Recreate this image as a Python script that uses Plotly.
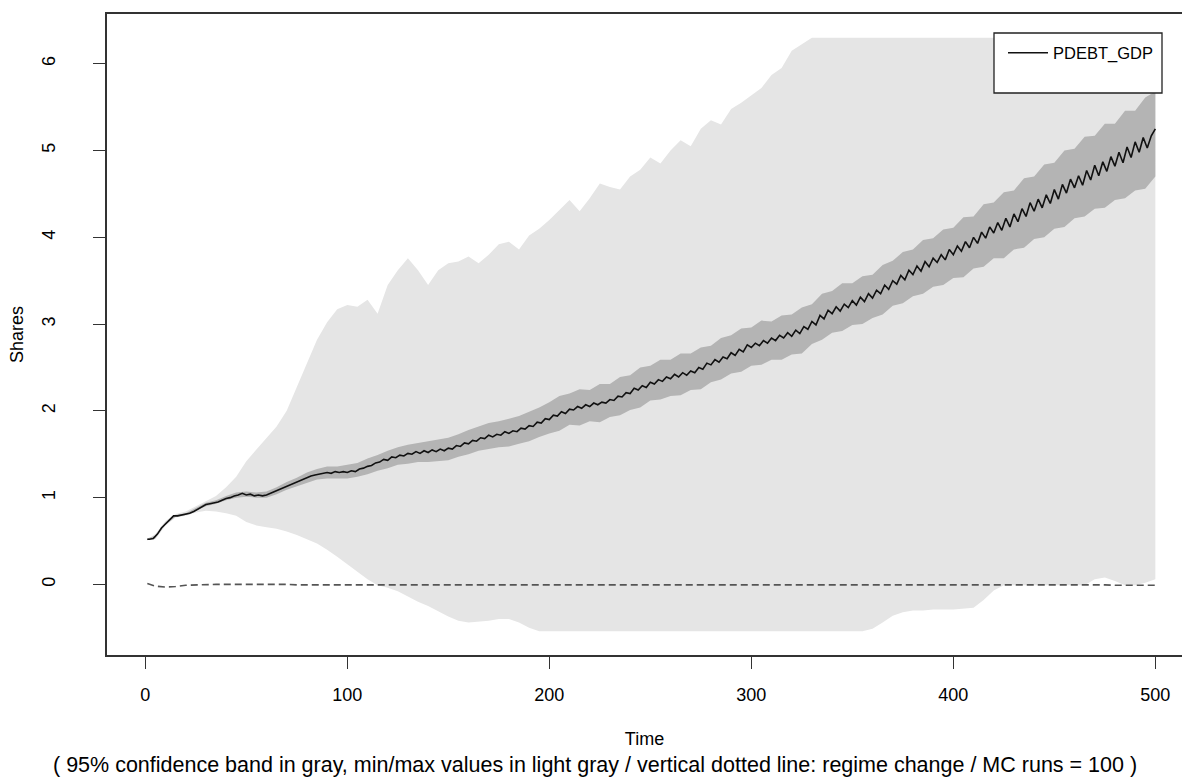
import plotly.graph_objects as go

# ---- Monte Carlo summary of PDEBT_GDP (100 runs) ----
# time grid for the mean path (every 2 periods) and for the bands (every 5 periods)
mean_t = [1] + list(range(2, 501, 2))
band_t = [1] + list(range(5, 501, 5))

# average over runs
mean_val = [
    0.52,
    0.52, 0.53, 0.58, 0.65, 0.70, 0.75, 0.79, 0.79, 0.80, 0.81,
    0.82, 0.84, 0.87, 0.89, 0.92, 0.93, 0.94, 0.95, 0.97, 0.99,
    1.00, 1.02, 1.03, 1.05, 1.03, 1.04, 1.02, 1.03, 1.02, 1.03,
    1.05, 1.07, 1.09, 1.11, 1.13, 1.15, 1.17, 1.19, 1.21, 1.23,
    1.25, 1.26, 1.27, 1.28, 1.29, 1.28, 1.30, 1.29, 1.30, 1.29,
    1.31, 1.30, 1.33, 1.34, 1.36, 1.37, 1.40, 1.41, 1.44, 1.43,
    1.47, 1.46, 1.49, 1.48, 1.51, 1.50, 1.53, 1.51, 1.54, 1.52,
    1.55, 1.53, 1.56, 1.54, 1.57, 1.56, 1.60, 1.59, 1.63, 1.62,
    1.66, 1.65, 1.69, 1.68, 1.72, 1.70, 1.73, 1.72, 1.76, 1.74,
    1.77, 1.76, 1.80, 1.79, 1.83, 1.82, 1.87, 1.86, 1.91, 1.90,
    1.95, 1.94, 1.99, 1.97, 2.02, 2.01, 2.05, 2.03, 2.07, 2.05,
    2.09, 2.07, 2.10, 2.09, 2.13, 2.12, 2.17, 2.16, 2.21, 2.20,
    2.26, 2.24, 2.29, 2.27, 2.33, 2.31, 2.36, 2.34, 2.39, 2.37,
    2.42, 2.39, 2.44, 2.41, 2.46, 2.44, 2.50, 2.48, 2.55, 2.53,
    2.59, 2.56, 2.62, 2.60, 2.67, 2.64, 2.71, 2.68, 2.76, 2.73,
    2.78, 2.75, 2.81, 2.78, 2.84, 2.81, 2.87, 2.84, 2.90, 2.86,
    2.93, 2.89, 2.97, 2.94, 3.03, 2.99, 3.10, 3.06, 3.16, 3.12,
    3.20, 3.15, 3.23, 3.19, 3.27, 3.22, 3.31, 3.26, 3.35, 3.30,
    3.39, 3.35, 3.45, 3.40, 3.50, 3.46, 3.56, 3.51, 3.62, 3.57,
    3.67, 3.61, 3.72, 3.66, 3.76, 3.71, 3.80, 3.74, 3.86, 3.80,
    3.90, 3.84, 3.95, 3.88, 4.00, 3.93, 4.06, 3.99, 4.12, 4.05,
    4.17, 4.08, 4.22, 4.12, 4.27, 4.18, 4.33, 4.24, 4.40, 4.30,
    4.44, 4.34, 4.49, 4.39, 4.55, 4.44, 4.61, 4.51, 4.67, 4.57,
    4.71, 4.60, 4.77, 4.66, 4.83, 4.71, 4.87, 4.76, 4.93, 4.82,
    4.98, 4.86, 5.04, 4.92, 5.10, 4.98, 5.15, 5.03, 5.17, 5.25,
]

# 95% confidence band
ci_upper = [
    0.53, 0.56, 0.71, 0.80, 0.82, 0.88, 0.94, 0.97, 1.02, 1.06,
    1.07, 1.06, 1.07, 1.12, 1.18, 1.23, 1.29, 1.33, 1.36, 1.36,
    1.38, 1.40, 1.45, 1.49, 1.54, 1.58, 1.61, 1.63, 1.65, 1.67,
    1.69, 1.73, 1.78, 1.82, 1.86, 1.88, 1.91, 1.94, 1.99, 2.04,
    2.10, 2.17, 2.20, 2.25, 2.24, 2.31, 2.31, 2.39, 2.41, 2.50,
    2.52, 2.59, 2.59, 2.66, 2.66, 2.73, 2.75, 2.84, 2.87, 2.95,
    2.96, 3.04, 3.03, 3.10, 3.11, 3.19, 3.23, 3.35, 3.38, 3.47,
    3.47, 3.55, 3.57, 3.68, 3.73, 3.83, 3.86, 3.97, 3.99, 4.09,
    4.11, 4.23, 4.24, 4.38, 4.40, 4.52, 4.54, 4.68, 4.70, 4.84,
    4.86, 5.00, 5.02, 5.16, 5.17, 5.31, 5.31, 5.46, 5.46, 5.61,
    5.68,
]
ci_lower = [
    0.51, 0.54, 0.69, 0.78, 0.80, 0.85, 0.90, 0.93, 0.97, 1.00,
    1.01, 1.00, 1.00, 1.04, 1.09, 1.13, 1.17, 1.21, 1.22, 1.22,
    1.22, 1.24, 1.27, 1.31, 1.34, 1.38, 1.39, 1.41, 1.41, 1.42,
    1.43, 1.47, 1.50, 1.54, 1.56, 1.58, 1.59, 1.62, 1.65, 1.70,
    1.74, 1.77, 1.84, 1.83, 1.88, 1.87, 1.93, 1.95, 2.01, 2.04,
    2.12, 2.13, 2.17, 2.18, 2.24, 2.25, 2.33, 2.36, 2.43, 2.45,
    2.52, 2.53, 2.59, 2.59, 2.65, 2.66, 2.77, 2.82, 2.90, 2.92,
    2.99, 3.00, 3.07, 3.11, 3.21, 3.24, 3.32, 3.35, 3.43, 3.45,
    3.53, 3.54, 3.64, 3.66, 3.76, 3.76, 3.86, 3.88, 3.98, 4.00,
    4.10, 4.12, 4.22, 4.24, 4.33, 4.34, 4.43, 4.45, 4.54, 4.56,
    4.70,
]

# min / max over runs
mm_upper = [
    0.52, 0.58, 0.73, 0.81, 0.84, 0.90, 0.96, 1.02, 1.12, 1.24,
    1.42, 1.55, 1.68, 1.82, 2.00, 2.28, 2.55, 2.82, 3.02, 3.17,
    3.22, 3.20, 3.28, 3.12, 3.45, 3.62, 3.76, 3.62, 3.45, 3.62,
    3.70, 3.72, 3.78, 3.70, 3.80, 3.92, 3.95, 3.86, 4.02, 4.10,
    4.20, 4.32, 4.43, 4.30, 4.45, 4.62, 4.58, 4.55, 4.70, 4.78,
    4.92, 4.85, 5.00, 5.12, 5.05, 5.25, 5.35, 5.30, 5.48, 5.55,
    5.64, 5.72, 5.87, 5.95, 6.15, 6.22, 6.30, 6.30, 6.30, 6.30,
    6.30, 6.30, 6.30, 6.30, 6.30, 6.30, 6.30, 6.30, 6.30, 6.30,
    6.30, 6.30, 6.30, 6.30, 6.30, 6.30, 6.30, 6.30, 6.30, 6.30,
    6.30, 6.30, 6.30, 6.30, 6.30, 6.30, 6.30, 6.30, 6.30, 6.30,
    6.30,
]
mm_lower = [
    0.52, 0.52, 0.68, 0.77, 0.79, 0.83, 0.85, 0.84, 0.82, 0.79,
    0.72, 0.68, 0.66, 0.64, 0.61, 0.57, 0.52, 0.47, 0.40, 0.32,
    0.23, 0.15, 0.06, -0.01, -0.04, -0.08, -0.14, -0.20, -0.25, -0.31,
    -0.37, -0.42, -0.44, -0.43, -0.42, -0.40, -0.40, -0.44, -0.50, -0.54,
    -0.54, -0.54, -0.54, -0.54, -0.54, -0.54, -0.54, -0.54, -0.54, -0.54,
    -0.54, -0.54, -0.54, -0.54, -0.54, -0.54, -0.54, -0.54, -0.54, -0.54,
    -0.54, -0.54, -0.54, -0.54, -0.54, -0.54, -0.54, -0.54, -0.54, -0.54,
    -0.54, -0.54, -0.51, -0.44, -0.36, -0.32, -0.30, -0.30, -0.29, -0.29,
    -0.29, -0.28, -0.27, -0.18, -0.07, -0.01, -0.01, -0.01, -0.01, -0.01,
    -0.01, -0.01, -0.01, -0.01, 0.06, 0.08, 0.04, -0.01, -0.01, 0.02,
    0.06,
]

# reference series drawn dashed near zero
ref_val = [
    0.01, -0.02, -0.03, -0.025, -0.01, -0.005, -0.005, 0.0, 0.0, 0.0,
    0.0, 0.005, 0.005, 0.0, 0.0, -0.005, -0.005, -0.005, 0.0, 0.0,
    0.0, 0.0, -0.005, -0.005, 0.0, 0.0, 0.0, -0.005, -0.005, -0.005,
    0.0, 0.0, 0.0, 0.0, -0.005, -0.005, -0.005, 0.0, 0.0, 0.0,
    -0.005, -0.005, 0.0, 0.0, 0.0, -0.005, -0.005, -0.005, 0.0, 0.0,
    0.0, -0.005, -0.005, 0.0, 0.0, 0.0, -0.005, -0.005, -0.005, 0.0,
    0.0, 0.0, -0.005, -0.005, 0.0, 0.0, 0.0, -0.005, -0.005, -0.005,
    0.0, 0.0, 0.0, -0.005, -0.005, -0.005, 0.0, 0.0, 0.0, -0.005,
    -0.005, -0.005, -0.005, 0.0, 0.0, 0.0, -0.005, -0.005, -0.005, -0.005,
    0.0, 0.0, -0.005, -0.005, -0.005, -0.005, -0.01, -0.01, -0.01, -0.01,
    -0.01,
]

x_ticks = [0, 100, 200, 300, 400, 500]
y_ticks = [0, 1, 2, 3, 4, 5, 6]

FONT = "Liberation Sans, Arial, sans-serif"
AXIS_COL = "#333333"

fig = go.Figure()

# min/max envelope (light gray)
fig.add_trace(go.Scatter(
    x=band_t + band_t[::-1], y=mm_upper + mm_lower[::-1],
    fill="toself", fillcolor="#E5E5E5", line=dict(width=0),
    mode="lines", showlegend=False, hoverinfo="skip"))

# 95% confidence band (gray)
fig.add_trace(go.Scatter(
    x=band_t + band_t[::-1], y=ci_upper + ci_lower[::-1],
    fill="toself", fillcolor="#B4B4B4", line=dict(width=0),
    mode="lines", showlegend=False, hoverinfo="skip"))

# dashed reference series
fig.add_trace(go.Scatter(
    x=band_t, y=ref_val, mode="lines",
    line=dict(color="#555555", width=1.6, dash="7px,4px"),
    showlegend=False, hoverinfo="skip"))

# mean path
fig.add_trace(go.Scatter(
    x=mean_t, y=mean_val, mode="lines", name="PDEBT_GDP",
    line=dict(color="#111111", width=1.6)))

# legend frame
fig.add_shape(type="rect", xref="paper", yref="paper",
              x0=(994 - 107) / 1075, x1=(1162 - 107) / 1075,
              y0=(655 - 93) / 641, y1=(655 - 33) / 641,
              line=dict(color="#222222", width=1.3), fillcolor="white",
              layer="above")

# subtitle under the x-axis title
fig.add_annotation(
    text="( 95% confidence band in gray, min/max values in light gray / "
         "vertical dotted line: regime change / MC runs = 100 )",
    xref="paper", yref="paper", x=(594.5 - 107) / 1075, y=(655 - 765) / 641,
    xanchor="center", yanchor="middle", showarrow=False,
    font=dict(family=FONT, size=21.5, color="#000000"))

fig.update_layout(
    width=1182, height=778,
    margin=dict(l=107, r=0, t=14, b=123),
    paper_bgcolor="white", plot_bgcolor="white",
    font=dict(family=FONT, size=18, color="#000000"),
    showlegend=True,
    legend=dict(x=(1003 - 107) / 1075, y=(655 - 53) / 641,
                xanchor="left", yanchor="middle",
                bgcolor="rgba(0,0,0,0)", borderwidth=0,
                font=dict(family=FONT, size=16.5), itemwidth=40),
    xaxis=dict(
        range=[-18.96, 513.2], tickmode="array", tickvals=x_ticks,
        ticktext=[str(v) for v in x_ticks],
        showgrid=False, zeroline=False,
        showline=True, mirror=True, linecolor=AXIS_COL, linewidth=1.5,
        ticks="outside", ticklen=12, tickwidth=1.3, tickcolor=AXIS_COL,
        ticklabelstandoff=11, tickfont=dict(size=18),
        title=dict(text="Time", standoff=28, font=dict(size=18)),
    ),
    yaxis=dict(
        range=[-0.8136, 6.5736], tickmode="array", tickvals=y_ticks,
        ticktext=[str(v) for v in y_ticks],
        showgrid=False, zeroline=False,
        showline=True, mirror=False, linecolor=AXIS_COL, linewidth=1.5,
        ticks="outside", ticklen=12, tickwidth=1.3, tickcolor=AXIS_COL,
        tickangle=-90, ticklabelstandoff=31, tickfont=dict(size=18),
        title=dict(text="Shares", standoff=11, font=dict(size=18)),
    ),
)

fig.write_html("out.html")
